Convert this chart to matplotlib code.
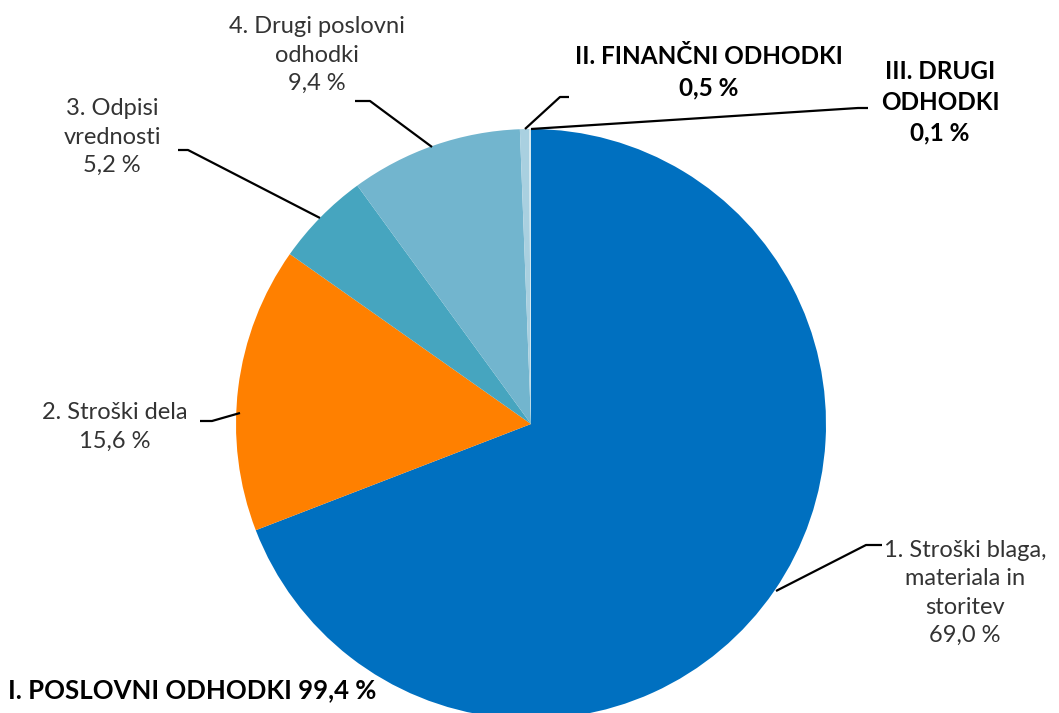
import matplotlib.pyplot as plt

# Struktura odhodkov (v %)
labels = ['1. Stroški blaga,\nmateriala in\nstoritev\n69,0 %',
          '2. Stroški dela\n15,6 %',
          '3. Odpisi\nvrednosti\n5,2 %',
          '4. Drugi poslovni\nodhodki\n9,4 %',
          'II. FINANČNI ODHODKI\n0,5 %',
          'III. DRUGI\nODHODKI\n0,1 %']
values = [69.0, 15.6, 5.2, 9.4, 0.5, 0.1]
colors = ['#0070C0', '#FF8000', '#46A5BF', '#72B5CE', '#A9D0E0', '#D2E8F0']
bold = [False, False, False, False, True, True]
total_label = 'I. POSLOVNI ODHODKI 99,4 %'

W, H = 1059, 713
fig = plt.figure(figsize=(W / 100, H / 100), dpi=100)
ax = fig.add_axes([0, 0, 1, 1])

font = ['Lato', 'DejaVu Sans']

def py(y):
    # pixel row -> data y
    return H - y

cx, cy, r = 531, py(424), 295
ax.pie(values, colors=colors, startangle=90, counterclock=False,
       center=(cx, cy), radius=r, frame=True,
       wedgeprops=dict(linewidth=0))
ax.set_xlim(0, W)
ax.set_ylim(0, H)
ax.axis('off')

# label positions (pixel centres) and leader lines
label_pos = [(965, 593), (115, 427), (112, 137), (317, 55), (709, 72), (940, 102)]
leaders = [
    [(882, 545), (866, 545), (776, 591)],
    [(200, 421), (212, 421), (240, 413)],
    [(178, 150), (188, 150), (320, 218)],
    [(355, 101), (370, 101), (432, 147)],
    [(569, 97), (560, 97), (525, 129)],
    [(868, 108), (858, 108), (531, 129)],
]

for lab, (x, y), b, pts in zip(labels, label_pos, bold, leaders):
    ax.text(x, py(y), lab, ha='center', va='center', fontsize=17.5 if b else 17,
            family=font, fontweight='bold' if b else 'normal',
            color='#000000' if b else '#333333', linespacing=1.42)
    xs = [p[0] for p in pts]
    ys = [py(p[1]) for p in pts]
    ax.plot(xs, ys, color='black', lw=1.6, solid_capstyle='butt')

ax.text(8, py(690), total_label, ha='left', va='center', fontsize=18.5,
        family=font, fontweight='bold', color='#000000')

fig.savefig('out.png', dpi=100)
